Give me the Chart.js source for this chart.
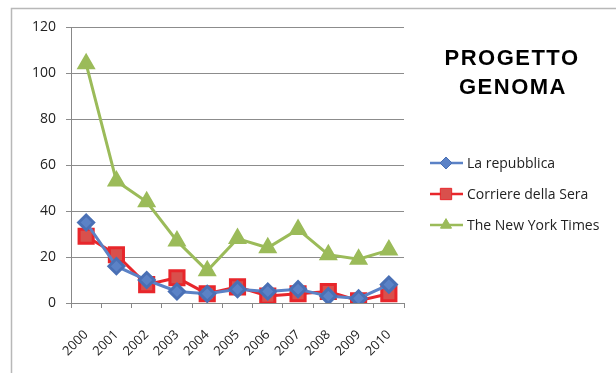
<!DOCTYPE html>
<html lang="it">
<head>
<meta charset="UTF-8">
<title>Progetto Genoma</title>
<script src="https://cdn.jsdelivr.net/npm/chart.js"></script>
<style>
    html, body { margin: 0; padding: 0; background: #fff; }
    #wrap { position: relative; width: 616px; height: 373px; }
</style>
</head>
<body>
<div id="wrap"><canvas id="chart" width="616" height="373"></canvas></div>
<script>
    const years = ['2000', '2001', '2002', '2003', '2004', '2005', '2006', '2007', '2008', '2009', '2010'];
    const repubblica = [35, 16, 10, 5, 4, 6, 5, 6, 3, 2, 8];
    const corriere = [29, 21, 8, 11, 4, 7, 3, 4, 5, 1, 4];
    const nyTimes = [104, 53, 44, 27, 14, 28, 24, 32, 21, 19, 23];
    const seriesNames = ['La repubblica', 'Corriere della Sera', 'The New York Times'];
    const titleLines = ['PROGETTO', 'GENOMA'];

    // frame, title and legend on the right
    const decor = {
        id: 'decor',
        afterDraw(chart) {
            const ctx = chart.ctx;
            ctx.save();
            ctx.strokeStyle = '#b8b8b8';
            ctx.lineWidth = 1.5;
            ctx.beginPath();
            ctx.moveTo(11.5, 373);
            ctx.lineTo(11.5, 8.5);
            ctx.lineTo(616, 8.5);
            ctx.stroke();

            ctx.fillStyle = '#000';
            ctx.font = 'bold 22px "Liberation Sans", Arial, sans-serif';
            ctx.letterSpacing = '1.5px';
            ctx.textAlign = 'center';
            ctx.textBaseline = 'alphabetic';
            ctx.fillText(titleLines[0], 512, 65);
            ctx.fillText(titleLines[1], 513, 94);
            ctx.letterSpacing = '0px';

            const ys = [163, 194, 225];
            chart.data.datasets.forEach((ds, i) => {
                const y = ys[i];
                ctx.strokeStyle = ds.borderColor;
                ctx.lineWidth = 2.5;
                ctx.beginPath();
                ctx.moveTo(430, y);
                ctx.lineTo(463, y);
                ctx.stroke();
                ctx.fillStyle = ds.pointBackgroundColor;
                ctx.strokeStyle = ds.pointBorderColor;
                ctx.lineWidth = 1;
                Chart.helpers.drawPoint(ctx, {
                    pointStyle: ds.pointStyle,
                    rotation: 0,
                    radius: ds.pointRadius * 0.8,
                    borderWidth: 1
                }, 446, y);
                ctx.fillStyle = '#222';
                ctx.font = '14px "Open Sans", sans-serif';
                ctx.textAlign = 'left';
                ctx.textBaseline = 'middle';
                ctx.fillText(ds.label, 467, y + 1);
            });
            ctx.restore();
        }
    };

    new Chart(document.getElementById('chart').getContext('2d'), {
        type: 'line',
        data: {
            labels: years,
            datasets: [{
                label: seriesNames[0],
                data: repubblica,
                borderColor: '#5b82c6',
                backgroundColor: '#5b82c6',
                pointBackgroundColor: '#5b82c6',
                pointBorderColor: '#4a70b5',
                pointStyle: 'rectRot',
                pointRadius: 7.5,
                borderWidth: 3,
                tension: 0
            }, {
                label: seriesNames[1],
                data: corriere,
                borderColor: '#e8262b',
                backgroundColor: '#d9504c',
                pointBackgroundColor: '#d9504c',
                pointBorderColor: '#e8262b',
                pointStyle: 'rect',
                pointRadius: 10,
                borderWidth: 3,
                tension: 0
            }, {
                label: seriesNames[2],
                data: nyTimes,
                borderColor: '#9bbb59',
                backgroundColor: '#9bbb59',
                pointBackgroundColor: '#9bbb59',
                pointBorderColor: '#9bbb59',
                pointStyle: 'triangle',
                pointRadius: 8,
                borderWidth: 3,
                tension: 0
            }]
        },
        options: {
            responsive: false,
            animation: false,
            layout: { padding: { left: 0, top: 27, right: 212, bottom: 0 } },
            plugins: {
                legend: { display: false },
                tooltip: { enabled: false }
            },
            scales: {
                x: {
                    offset: true,
                    afterFit(scale) { scale.height = 70; },
                    grid: {
                        offset: true,
                        drawOnChartArea: false,
                        drawTicks: true,
                        tickLength: 5,
                        color: '#888'
                    },
                    border: { color: '#888', width: 1 },
                    ticks: {
                        minRotation: 45,
                        maxRotation: 45,
                        padding: 19,
                        color: '#222',
                        font: { family: '"Open Sans", sans-serif', size: 13 }
                    }
                },
                y: {
                    min: 0,
                    max: 120,
                    afterFit(scale) { scale.width = 71; },
                    grid: {
                        color: '#8c8c8c',
                        tickLength: 5,
                        lineWidth: 1
                    },
                    border: { color: '#888', width: 1 },
                    ticks: {
                        stepSize: 20,
                        padding: 10,
                        color: '#222',
                        font: { family: '"Open Sans", sans-serif', size: 14 }
                    }
                }
            }
        },
        plugins: [decor]
    });
</script>
</body>
</html>
